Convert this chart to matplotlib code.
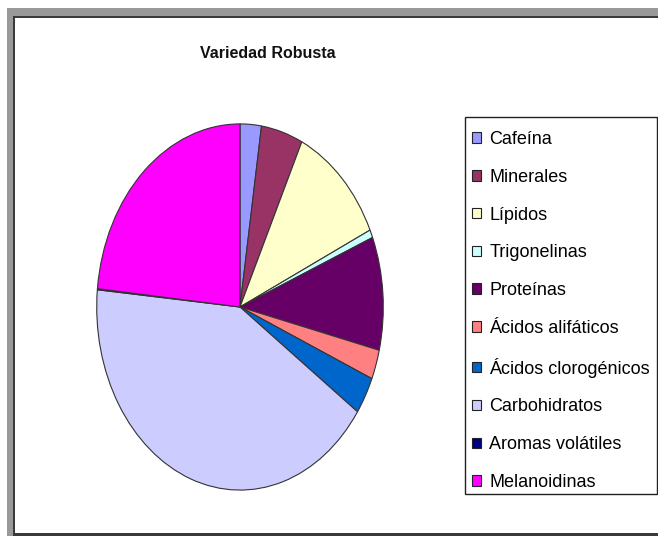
import matplotlib
matplotlib.use('Agg')
import matplotlib.pyplot as plt
from matplotlib.patches import Rectangle, Patch

W, H = 658, 536

componentes = ['Cafeína', 'Minerales', 'Lípidos', 'Trigonelinas', 'Proteínas',
               'Ácidos alifáticos', 'Ácidos clorogénicos', 'Carbohidratos',
               'Aromas volátiles', 'Melanoidinas']
porcentajes = [2.4, 4.7, 11.0, 0.7, 10.0, 2.6, 3.3, 41.8, 0.1, 23.4]
colores = ['#9999ff', '#993366', '#ffffcc', '#ccffff', '#660066',
           '#ff8080', '#0066cc', '#ccccff', '#000080', '#ff00ff']

plt.rcParams['font.family'] = ['Liberation Sans', 'DejaVu Sans']


def caja(x, y, w, h):
    # pixel box (top-left origin) -> figure fraction
    return x / W, 1 - (y + h) / H, w / W, h / H


def rect(x, y, w, h, face, edge='none', lw=0):
    fx, fy, fw, fh = caja(x, y, w, h)
    fig.patches.append(Rectangle((fx, fy), fw, fh, transform=fig.transFigure,
                                 facecolor=face, edgecolor=edge, linewidth=lw))


fig = plt.figure(figsize=(W / 100, H / 100), dpi=100)

# window frame around the chart
rect(7, 8, W - 7, 9, '#999999')
rect(7, 8, 7, H - 8, '#999999')
rect(14, 16, W - 14, 2, '#3a3a3a')
rect(13, 16, 2, H - 16, '#3a3a3a')
rect(14, 533, W - 14, 3, '#3a3a3a')

fig.text(268 / W, 1 - 54 / H, 'Variedad Robusta', ha='center', va='center',
         fontsize=11.5, fontweight='bold', color='#111111')

ax = fig.add_axes(caja(96, 123, 288, 368))
ax.pie(porcentajes, colors=colores, startangle=90, counterclock=False,
       wedgeprops=dict(edgecolor='#333333', linewidth=0.8))
ax.set_aspect('auto')
ax.set_xlim(-1.005, 1.005)
ax.set_ylim(-1.005, 1.005)
ax.axis('off')

# legend box
rect(465, 117, 192, 377, 'none', edge='#222222', lw=1.0)
handles = [Patch(facecolor=c, edgecolor='#222222', linewidth=0.8) for c in colores]
leg = fig.legend(handles, componentes, loc='upper left',
                 bbox_to_anchor=(472 / W, 1 - 131 / H),
                 bbox_transform=fig.transFigure, fontsize=13, frameon=False,
                 borderaxespad=0, borderpad=0, handlelength=0.5,
                 handleheight=0.5, handletextpad=0.45, labelspacing=1.15)

fig.savefig('out.png', dpi=100)
